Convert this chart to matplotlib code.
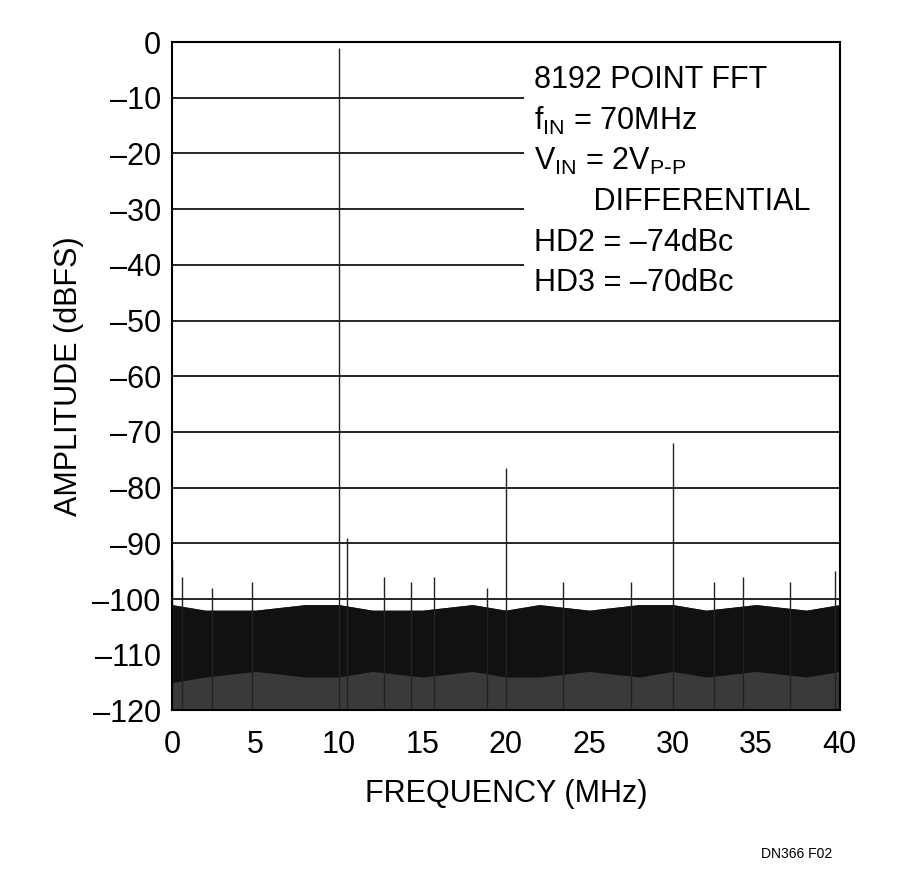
import matplotlib.pyplot as plt

# noise floor envelope (MHz, dBFS)
floor_freq = [0, 2, 5, 8, 10, 12, 15, 18, 20, 22, 25, 28, 30, 32, 35, 38, 40]
floor_top = [-101, -102, -102, -101, -101, -102, -102, -101, -102, -101, -102, -101, -101, -102, -101, -102, -101]
dense_low = [-115, -114, -113, -114, -114, -113, -114, -113, -114, -114, -113, -114, -113, -114, -113, -114, -113]
floor_low = [-120] * len(floor_freq)

# tones and spurs
spur_freq = [0.0, 0.6, 2.4, 4.8, 10.0, 10.5, 12.7, 14.3, 15.7, 18.9, 20.0, 23.4, 27.5, 30.0, 32.5, 34.2, 37.0, 39.7]
spur_amp = [-93, -96, -98, -97, -1, -89, -96, -97, -96, -98, -76.5, -97, -97, -72, -97, -96, -97, -95]

yticks = list(range(0, -121, -10))
xticks = list(range(0, 41, 5))

plt.rcParams['font.family'] = ['Liberation Sans', 'DejaVu Sans']
fig = plt.figure(figsize=(9, 8.76), dpi=100)
ax = fig.add_axes([0.191, 0.189, 0.742, 0.763])

for y in yticks:
    ax.axhline(y, color='black', lw=1.2, zorder=1)

ax.fill_between(floor_freq, floor_low, floor_top, color='#3a3a3a', lw=0, zorder=2)
ax.fill_between(floor_freq, dense_low, floor_top, color='#111111', lw=0, zorder=3)
ax.vlines(spur_freq, -120, spur_amp, color='#222222', lw=1.0, zorder=4)

ax.set_xlim(0, 40)
ax.set_ylim(-120, 0)
ax.set_xticks(xticks)
ax.set_yticks(yticks)
ax.set_yticklabels([str(v).replace('-', '\u2013') for v in yticks])
ax.tick_params(labelsize=22, length=0)
ax.tick_params(axis='x', pad=14)
ax.tick_params(axis='y', pad=8)
for s in ax.spines.values():
    s.set_linewidth(1.5)
    s.set_zorder(7)

ax.set_xlabel('FREQUENCY (MHz)', fontsize=22, labelpad=14)
ax.set_ylabel('AMPLITUDE (dBFS)', fontsize=22, labelpad=6)

ax.add_patch(plt.Rectangle((21.1, -46.5), 18.9, 46, facecolor='white', edgecolor='none', zorder=5))
lines = ['8192 POINT FFT', r'f$_{\mathregular{IN}}$ = 70MHz', r'V$_{\mathregular{IN}}$ = 2V$_{\mathregular{P\text{-}P}}$',
         '       DIFFERENTIAL', 'HD2 = \u201374dBc', 'HD3 = \u201370dBc']
for i, t in enumerate(lines):
    ax.text(21.7, -6.8 - 7.3 * i, t, fontsize=22, va='center', ha='left', zorder=6)

fig.text(0.925, 0.02, 'DN366 F02', fontsize=10, ha='right')
fig.savefig('out.png', dpi=100)
